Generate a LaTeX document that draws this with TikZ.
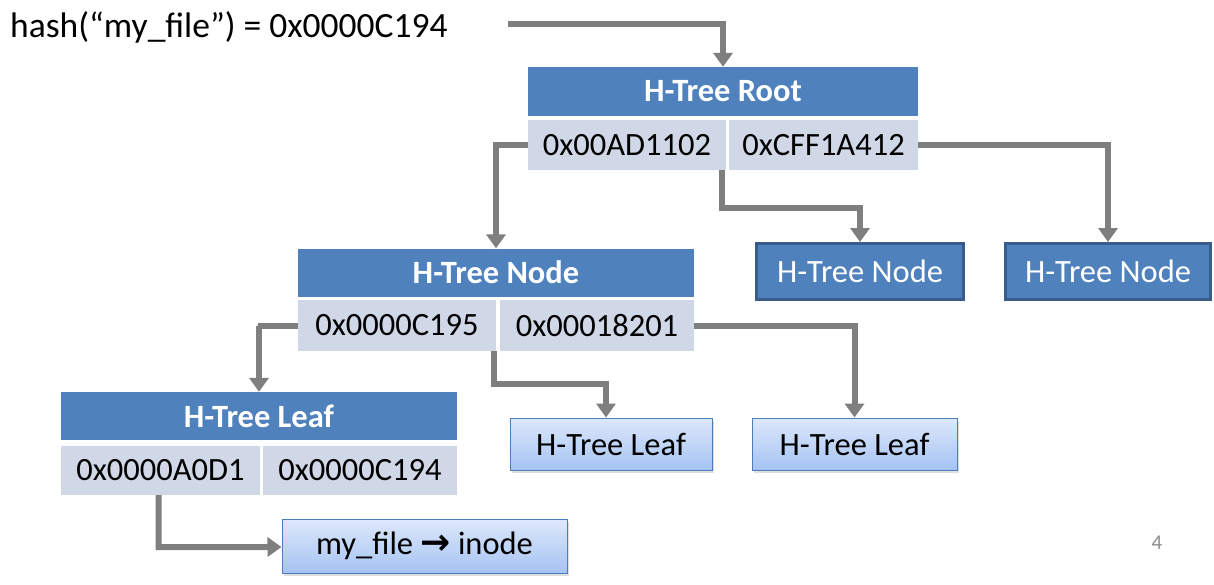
\documentclass[tikz,border=0pt]{standalone}
\usepackage{fontspec}
\setmainfont{Carlito}
\newfontfamily\dejavu{DejaVu Sans}
\usetikzlibrary{arrows.meta,shadows}
\definecolor{hblue}{HTML}{4F81BD}
\definecolor{hcell}{HTML}{D0D8E8}
\definecolor{hborder}{HTML}{385D8A}
\definecolor{hgrey}{HTML}{7F7F7F}
\definecolor{ltop}{HTML}{DDE8FB}
\definecolor{lbot}{HTML}{A5C3F3}
\definecolor{lborder}{HTML}{4A7EBB}
\tikzset{
  hdr/.style={fill=hblue, text=white, inner sep=0pt, font=\fontsize{32.5}{34}\selectfont\bfseries},
  cell/.style={fill=hcell, text=black, inner sep=0pt, minimum height=50pt, font=\fontsize{32.5}{34}\selectfont},
  tnode/.style={fill=hblue, draw=hborder, line width=3pt, text=white, inner sep=0pt, minimum height=56pt, font=\fontsize{32.5}{34}\selectfont},
  leaf/.style={top color=ltop, bottom color=lbot, draw=lborder, line width=1pt, inner sep=0pt, minimum height=52pt,
    font=\fontsize{32.5}{34}\selectfont, drop shadow={opacity=0.25, shadow xshift=2pt, shadow yshift=-3pt}},
  conn/.style={draw=hgrey, line width=6pt, -{Triangle[width=19pt,length=14pt]}, line join=miter}
}
\begin{document}
\begin{tikzpicture}[x=1pt,y=-1pt]
\useasboundingbox[fill=white] (0,0) rectangle (1214,584);

% title
\node[anchor=base west, inner sep=0pt, font=\fontsize{35.5}{37}\selectfont] (title) at (10,37) {hash(“my\_file”) = 0x0000C194};
\coordinate (hstart) at (508,24);

% root
\node[hdr, minimum width=390pt, minimum height=49pt] (root) at (723,91.5) {H-Tree Root};
\node[cell, minimum width=198pt] (rootL) at (627,145) {0x00AD1102};
\node[cell, minimum width=189pt] (rootR) at (823.5,145) {0xCFF1A412};

% inner node
\node[hdr, minimum width=396pt, minimum height=48pt] (node) at (496,272.5) {H-Tree Node};
\node[cell, minimum width=198pt, minimum height=51pt] (nodeL) at (397,325.5) {0x0000C195};
\node[cell, minimum width=194pt, minimum height=51pt] (nodeR) at (597,325.5) {0x00018201};

% other nodes
\node[tnode, minimum width=207pt] (node2) at (860,271.5) {H-Tree Node};
\node[tnode, minimum width=205pt] (node3) at (1108,271.5) {H-Tree Node};

% leaf table
\node[hdr, minimum width=396pt, minimum height=48pt] (leaf) at (259,416) {H-Tree Leaf};
\node[cell, minimum width=199pt, minimum height=49pt] (leafL) at (160.5,470.5) {0x0000A0D1};
\node[cell, minimum width=194pt, minimum height=49pt] (leafR) at (360,470.5) {0x0000C194};

% leaf boxes
\node[leaf, minimum width=202pt] (leaf1) at (611,444) {H-Tree Leaf};
\node[leaf, minimum width=205pt] (leaf2) at (854.5,444) {H-Tree Leaf};
\node[leaf, minimum width=285pt, minimum height=54pt] (file) at (424.5,546) {my\_file {\dejavu\bfseries\fontsize{36}{36}\selectfont →} inode};

% page number
\node[anchor=base, inner sep=0pt, text=gray!90, font=\fontsize{21}{22}\selectfont] (pg) at (1157,549) {4};

% connectors
\draw[conn] (hstart) -| (root.north);
\draw[conn] (rootL.west) -- ++(-31,0) -| (node.north);
\draw[conn] (rootR.east) -| (node3.north);
\draw[conn] ([xshift=-4pt]rootL.south east) -- ++(0,38) -| (node2.north);
\draw[conn] (nodeL.west) -- ++(-40,0) -| (leaf.north);
\draw[conn] ([xshift=-2pt]nodeL.south east) -- ++(0,33) -| ([xshift=-5pt]leaf1.north);
\draw[conn] (nodeR.east) -| (leaf2.north);
\draw[conn] ([xshift=-2pt]leafL.south) -- ++(0,52) -- (file.west |- 0,547);
\end{tikzpicture}
\end{document}
